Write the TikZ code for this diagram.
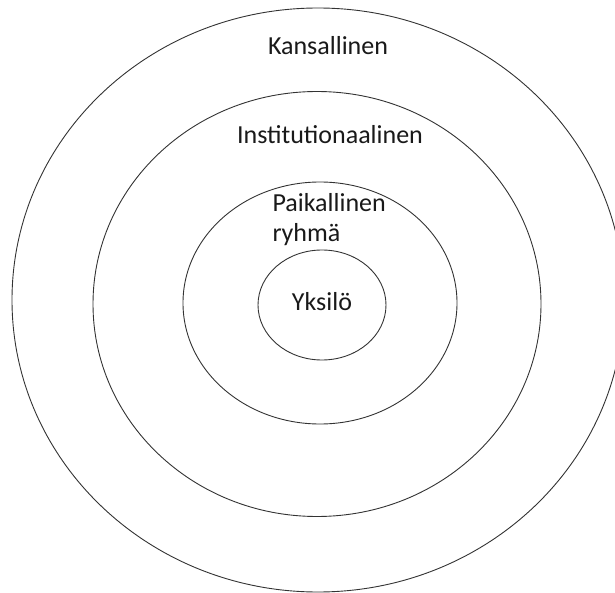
\documentclass[tikz,border=0pt]{standalone}
\usepackage{fontspec}
\setmainfont{Carlito}
\begin{document}
\begin{tikzpicture}[x=1pt,y=-1pt,
  ring/.style={draw=black!80, line width=0.9pt},
  lbl/.style={inner sep=0pt, outer sep=0pt, font=\fontsize{26}{30}\selectfont, text=black!90}]
\useasboundingbox (0,0) rectangle (615,593);
\clip (0,0) rectangle (615,593);
% nested levels, outermost first
\draw[ring] (318,300) ellipse [x radius=306, y radius=292];
\draw[ring] (317,304) ellipse [x radius=224, y radius=212.5];
\draw[ring] (320,303) ellipse [x radius=137, y radius=121];
\draw[ring] (322,305) ellipse [x radius=64, y radius=55];
% level labels
\node[lbl, anchor=base] (kans) at (328,55) {Kansallinen};
\node[lbl, anchor=base] (inst) at (330,144) {Institutionaalinen};
\node[lbl, anchor=base west] (paik) at (272.5,212) {Paikallinen};
\node[lbl, anchor=base west] (ryhma) at (272.5,242) {ryhmä};
\node[lbl, anchor=base] (yks) at (322,310) {Yksilö};
\end{tikzpicture}
\end{document}
